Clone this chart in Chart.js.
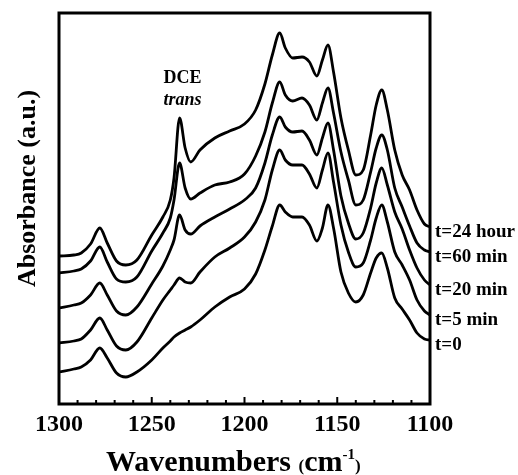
<!DOCTYPE html>
<html>
<head>
<meta charset="utf-8">
<script src="https://cdn.jsdelivr.net/npm/chart.js@4/dist/chart.umd.min.js"></script>
<style>
  html, body { margin: 0; padding: 0; background: #fff; }
  canvas { display: block; }
</style>
</head>
<body>
<canvas id="irchart" width="518" height="475"></canvas>
<script>
// 波数 (cm-1)
const wavenumbers = [1300, 1292, 1288, 1283, 1278, 1274, 1269, 1264, 1258, 1250, 1244, 1240, 1238, 1235, 1232, 1229,
  1224, 1216, 1208, 1200, 1194, 1189, 1185, 1181, 1178, 1174, 1169, 1165, 1161, 1158, 1155, 1152,
  1148, 1144, 1140, 1136, 1132, 1129, 1126, 1123, 1119, 1115, 1111, 1107, 1103, 1100];

// 吸光度 (a.u.、オフセット込み)
const abs_t0 = [0.32, 0.35, 0.37, 0.44, 0.56, 0.46, 0.31, 0.27, 0.32, 0.44, 0.56, 0.63, 0.67, 0.71, 0.74, 0.77,
  0.84, 0.97, 1.07, 1.15, 1.30, 1.54, 1.78, 1.99, 1.92, 1.87, 1.87, 1.79, 1.63, 1.76, 1.99, 1.76,
  1.32, 1.11, 1.02, 1.09, 1.31, 1.46, 1.51, 1.36, 1.06, 0.95, 0.84, 0.71, 0.65, 0.64];
const abs_5min = [0.61, 0.63, 0.65, 0.74, 0.86, 0.74, 0.58, 0.54, 0.62, 0.86, 1.04, 1.14, 1.19, 1.26, 1.22, 1.21,
  1.32, 1.47, 1.56, 1.67, 1.82, 2.04, 2.34, 2.54, 2.44, 2.39, 2.39, 2.30, 2.16, 2.34, 2.51, 2.22,
  1.79, 1.52, 1.37, 1.41, 1.64, 1.86, 1.99, 1.82, 1.52, 1.39, 1.24, 1.04, 0.93, 0.89];
const abs_20min = [0.96, 0.99, 1.01, 1.09, 1.21, 1.09, 0.93, 0.89, 0.97, 1.20, 1.38, 1.54, 1.64, 1.89, 1.74, 1.70,
  1.78, 1.87, 1.95, 2.04, 2.16, 2.41, 2.69, 2.87, 2.77, 2.72, 2.73, 2.64, 2.49, 2.66, 2.81, 2.54,
  2.08, 1.81, 1.65, 1.71, 1.96, 2.21, 2.36, 2.19, 1.92, 1.75, 1.54, 1.36, 1.24, 1.19];
const abs_60min = [1.31, 1.33, 1.35, 1.43, 1.57, 1.42, 1.25, 1.22, 1.27, 1.53, 1.71, 1.86, 2.04, 2.41, 2.16, 2.05,
  2.11, 2.19, 2.22, 2.30, 2.48, 2.72, 3.01, 3.22, 3.09, 3.03, 3.06, 2.99, 2.84, 3.01, 3.16, 2.91,
  2.52, 2.24, 1.99, 2.04, 2.32, 2.56, 2.69, 2.54, 2.16, 1.97, 1.78, 1.61, 1.54, 1.52];
const abs_24h = [1.48, 1.49, 1.51, 1.60, 1.76, 1.61, 1.43, 1.39, 1.44, 1.69, 1.87, 2.04, 2.26, 2.86, 2.56, 2.42,
  2.54, 2.66, 2.73, 2.80, 2.94, 3.20, 3.49, 3.71, 3.56, 3.46, 3.47, 3.42, 3.28, 3.44, 3.59, 3.32,
  2.86, 2.54, 2.29, 2.34, 2.69, 2.99, 3.14, 2.94, 2.54, 2.29, 2.14, 1.94, 1.80, 1.77];

const seriesLabels = ["t=0", "t=5 min", "t=20 min", "t=60 min", "t=24 hour"];
const seriesValues = [abs_t0, abs_5min, abs_20min, abs_60min, abs_24h];
const xTickLabels = [1300, 1250, 1200, 1150, 1100];

const SERIF = '"Liberation Serif", "Times New Roman", serif';

const datasets = seriesValues.map((vals, i) => ({
  label: seriesLabels[i],
  data: wavenumbers.map((w, j) => ({ x: w, y: vals[j] })),
  borderColor: "#000",
  borderWidth: 2.8,
  pointRadius: 0,
  fill: false,
  cubicInterpolationMode: "monotone",
}));

// 枠線・内向き目盛り・文字の描画
const frameAndText = {
  id: "frameAndText",
  afterDraw(chart) {
    const { ctx, chartArea: a, scales } = chart;
    const xs = scales.x;
    const ys = scales.y;
    ctx.save();
    ctx.strokeStyle = "#000";
    ctx.fillStyle = "#000";
    ctx.lineWidth = 3;
    ctx.strokeRect(a.left, a.top, a.right - a.left, a.bottom - a.top);

    ctx.lineWidth = 2;
    xs.ticks.forEach(t => {
      const px = xs.getPixelForValue(t.value);
      const len = xTickLabels.includes(t.value) ? 7 : 4;
      ctx.beginPath();
      ctx.moveTo(px, a.bottom);
      ctx.lineTo(px, a.bottom - len);
      ctx.stroke();
    });

    // 系列ラベル(右側)
    ctx.font = "bold 19px " + SERIF;
    ctx.textBaseline = "middle";
    ctx.textAlign = "left";
    chart.data.datasets.forEach((ds, i) => {
      const meta = chart.getDatasetMeta(i);
      const last = meta.data[meta.data.length - 1];
      ctx.fillText(ds.label, a.right + 5, last.y + 5);
    });

    // DCE trans
    const px = xs.getPixelForValue(1235) + 3;
    const py = ys.getPixelForValue(2.86);
    ctx.textAlign = "center";
    ctx.font = "bold 18px " + SERIF;
    ctx.fillText("DCE", px, py - 40);
    ctx.font = "italic bold 18px " + SERIF;
    ctx.fillText("trans", px, py - 18);

    // y軸タイトル
    ctx.save();
    ctx.translate(28, (a.top + a.bottom) / 2 - 20);
    ctx.rotate(-Math.PI / 2);
    ctx.font = "bold 26px " + SERIF;
    ctx.textAlign = "center";
    ctx.fillText("Absorbance (a.u.)", 0, 0);
    ctx.restore();

    // x軸タイトル
    ctx.textAlign = "left";
    ctx.textBaseline = "alphabetic";
    const base = 471;
    let x = 106;
    const big = "bold 30px " + SERIF;
    const small = "bold 17px " + SERIF;
    ctx.font = big;
    ctx.fillText("Wavenumbers", x, base);
    x += ctx.measureText("Wavenumbers ").width;
    ctx.font = small;
    ctx.fillText("(", x, base);
    x += ctx.measureText("(").width;
    ctx.font = big;
    ctx.fillText("cm", x, base);
    x += ctx.measureText("cm").width;
    ctx.font = "bold 15px " + SERIF;
    ctx.fillText("-1", x, base - 12);
    x += ctx.measureText("-1").width;
    ctx.font = small;
    ctx.fillText(")", x, base);
    ctx.restore();
  },
};

new Chart(document.getElementById("irchart").getContext("2d"), {
  type: "line",
  data: { datasets },
  options: {
    responsive: false,
    animation: false,
    layout: { padding: { top: 13, right: 88, left: 59, bottom: 0 } },
    plugins: { legend: { display: false }, tooltip: { enabled: false } },
    scales: {
      x: {
        type: "linear",
        reverse: true,
        min: 1100,
        max: 1300,
        border: { display: false },
        grid: { display: false, drawTicks: false },
        ticks: {
          stepSize: 10,
          autoSkip: false,
          maxRotation: 0,
          padding: 6,
          color: "#000",
          font: { family: SERIF, size: 24, weight: "bold" },
          callback: v => (xTickLabels.includes(v) ? String(v) : ""),
        },
        afterFit: s => { s.height = 71; },
      },
      y: {
        display: false,
        min: 0,
        max: 3.91,
      },
    },
  },
  plugins: [frameAndText],
});
</script>
</body>
</html>
